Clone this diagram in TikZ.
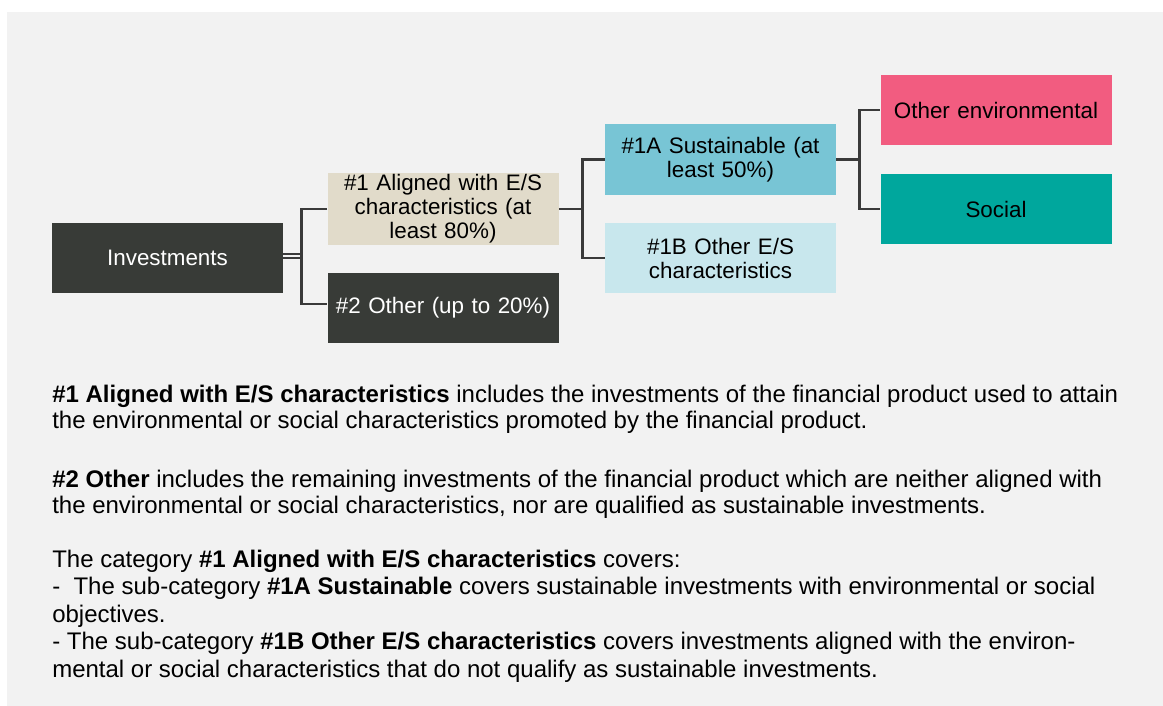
\documentclass[tikz,border=0pt]{standalone}
\usepackage{fontspec}
\setmainfont{Liberation Sans}
\definecolor{bggray}{HTML}{F2F2F2}
\definecolor{darkbox}{HTML}{383B37}
\definecolor{beige}{HTML}{E1DBCA}
\definecolor{midblue}{HTML}{78C5D5}
\definecolor{paleblue}{HTML}{C8E7ED}
\definecolor{pinkbox}{HTML}{F25C80}
\definecolor{tealbox}{HTML}{00A79D}
\definecolor{linegray}{HTML}{3A3A3A}
\begin{document}
\begin{tikzpicture}[x=0.75pt,y=-0.75pt,
  catbox/.style={minimum width=173.25pt,minimum height=52.5pt,inner sep=1pt,align=center,text width=170pt,font=\fontsize{16.8}{18}\selectfont},
  conn/.style={draw=linegray,line width=2pt},
  bodyline/.style={anchor=base west,inner sep=0pt,font=\fontsize{18}{20}\selectfont}]
\useasboundingbox (0,0) rectangle (1163,706);
\fill[bggray] (7,12) rectangle (1163,706);
% boxes
\node[catbox,fill=darkbox,text=white] (inv) at (167.5,258) {Investments};
\node[catbox,fill=beige] (n1) at (443,209) {\#1 Aligned with E/S\\characteristics (at\\least 80\%)};
\node[catbox,fill=darkbox,text=white] (n2) at (443,308) {\#2 Other (up to 20\%)};
\node[catbox,fill=midblue] (n1a) at (720.5,159.5) {\#1A Sustainable (at\\least 50\%)};
\node[catbox,fill=paleblue] (n1b) at (720.5,258) {\#1B Other E/S\\characteristics};
\node[catbox,fill=pinkbox] (oe) at (996,110) {Other environmental};
\node[catbox,fill=tealbox] (soc) at (996,209) {Social};
% connectors
\draw[conn] ([yshift=3pt]inv.east) -- ++(19,0);
\draw[conn] ([yshift=0pt]inv.east) -- ++(19,0);
\draw[conn] (n1.west) -- ++(-26,0) |- ([yshift=3pt]n2.west);
\draw[conn] (n1.east) -- ++(24,0) |- (n1a.west);
\draw[conn] (n1.east) ++(24,0) |- (n1b.west);
\draw[conn] (n1a.east) -- ++(23,0) |- (oe.west);
\draw[conn] (n1a.east) ++(23,0) |- (soc.west);
% body text
\node[bodyline] (t1) at (52,402) {\textbf{\#1 Aligned with E/S characteristics} includes the investments of the financial product used to attain};
\node[bodyline] (t2) at (52,428.5) {the environmental or social characteristics promoted by the financial product.};
\node[bodyline] (t3) at (52,487) {\textbf{\#2 Other} includes the remaining investments of the financial product which are neither aligned with};
\node[bodyline] (t4) at (52,513.5) {the environmental or social characteristics, nor are qualified as sustainable investments.};
\node[bodyline] (t5) at (52,567) {The category \textbf{\#1 Aligned with E/S characteristics} covers:};
\node[bodyline] (t6) at (52,594) {-\ \ The sub-category \textbf{\#1A Sustainable} covers sustainable investments with environmental or social};
\node[bodyline] (t7) at (52,622) {objectives.};
\node[bodyline] (t8) at (52,649) {- The sub-category \textbf{\#1B Other E/S characteristics} covers investments aligned with the environ-};
\node[bodyline] (t9) at (52,677) {mental or social characteristics that do not qualify as sustainable investments.};
\end{tikzpicture}
\end{document}
